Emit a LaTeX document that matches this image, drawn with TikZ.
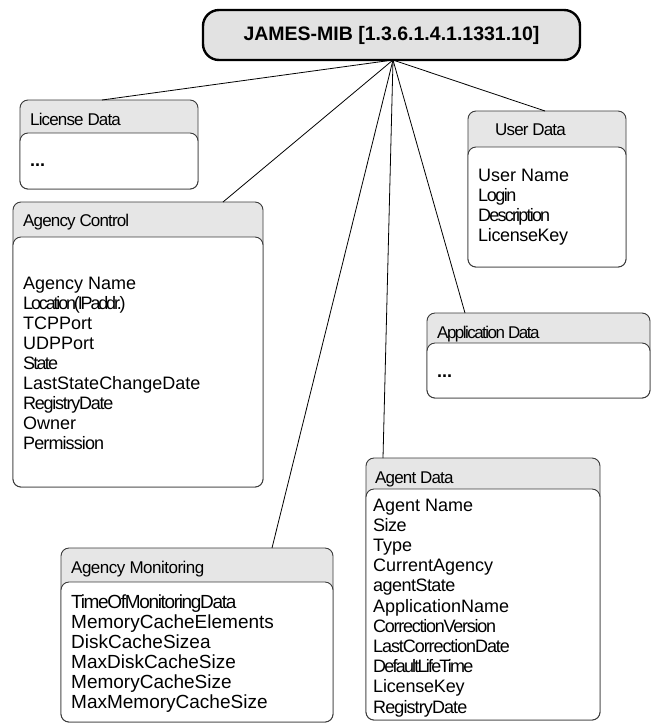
\documentclass[tikz,border=0pt]{standalone}
\usepackage{fontspec}
\setmainfont{Liberation Sans}
\definecolor{hdrgray}{HTML}{E6E6E6}
\definecolor{rootgray}{HTML}{E2E2E2}
\definecolor{boxline}{HTML}{3A3A3A}
% tightly set words (optional argument: letter spacing)
\newcommand\cnd[2][-5]{{\addfontfeatures{LetterSpace=#1}#2}}
% list of attributes: name prefix, x, first baseline, line step, style, entries
\newcommand\attrlist[6]{%
  \foreach \t [count=\i from 0] in {#6}
    \node[#5, anchor=base west] (#1\i) at (#2, #3+#4*\i) {\t};}
\begin{document}
\begin{tikzpicture}[x=1pt,y=-1pt,
  rootbox/.style={draw=black, fill=rootgray, line width=2.4pt, rounded corners=16pt,
    minimum width=377pt, minimum height=50pt, inner sep=0pt, outer sep=0pt,
    font=\fontsize{19.5}{22}\selectfont\bfseries},
  hdrbox/.style={draw=boxline, fill=hdrgray, rounded corners=8pt, line width=0.9pt,
    inner sep=0pt, outer sep=0pt, anchor=north west},
  bodybox/.style={draw=boxline, fill=white, rounded corners=8pt, line width=0.9pt},
  conn/.style={draw=black, line width=0.8pt},
  title/.style={inner sep=0pt, anchor=base west, font=\fontsize{17}{20}\selectfont},
  attr/.style={inner sep=0pt, font=\fontsize{18}{20}\selectfont},
  bigattr/.style={inner sep=0pt, font=\fontsize{19}{20}\selectfont},
]
\fill[white] (0,0) rectangle (652,724);
\path[use as bounding box] (0,0) rectangle (652,724);

% root of the tree
\node[rootbox] (root) at (391.5,35) {JAMES-MIB [1.3.6.1.4.1.1331.10]};
\coordinate (hub) at ([xshift=1.5pt]root.south);

% group boxes (outer frame carries the grey header)
\node[hdrbox, minimum width=178pt, minimum height=89pt]  (lic) at (20,100) {};
\node[hdrbox, minimum width=250pt, minimum height=285pt] (ctl) at (13,202) {};
\node[hdrbox, minimum width=158pt, minimum height=156pt] (usr) at (468,111) {};
\node[hdrbox, minimum width=223pt, minimum height=85pt]  (app) at (427,313) {};
\node[hdrbox, minimum width=234pt, minimum height=262pt] (agt) at (366,458) {};
\node[hdrbox, minimum width=272pt, minimum height=174pt] (mon) at (61,548) {};

% connectors from the root
\draw[conn] (hub) -- ([xshift=82pt]lic.north west);
\draw[conn] (hub) -- ([xshift=210pt]ctl.north west);
\draw[conn] (hub) -- ([xshift=77pt]usr.north west);
\draw[conn] (hub) -- ([xshift=38pt]app.north west);
\draw[conn] (hub) -- ([xshift=17pt]agt.north west);
\draw[conn] (hub) -- ([xshift=211pt]mon.north west);

% white bodies
\draw[bodybox] (20,133)  rectangle (lic.south east);
\draw[bodybox] (13,237)  rectangle (ctl.south east);
\draw[bodybox] (468,147) rectangle (usr.south east);
\draw[bodybox] (427,343) rectangle (app.south east);
\draw[bodybox] (366,489) rectangle (agt.south east);
\draw[bodybox] (61,582)  rectangle (mon.south east);

% License Data
\node[title] (lict) at (30,125) {\cnd{License Data}};
\node[attr, anchor=base west] (licd) at (30,166) {\textbf{...}};

% Agency Control
\node[title] (ctlt) at (23,226) {\cnd{Agency Control}};
\attrlist{ctl}{23}{289}{20}{attr}{Agency Name,{\cnd[-12]{Location(IPaddr.)}},TCPPort,UDPPort,{\cnd[-10]{State}},LastStateChangeDate,{\cnd[-7]{RegistryDate}},Owner,{\cnd{Permission}}}

% User Data
\node[title] (usrt) at (495,135) {\cnd{User Data}};
\attrlist{usr}{478}{181}{20}{attr}{User Name,{\cnd[-8]{Login}},{\cnd[-10]{Description}},{\cnd[-2]{LicenseKey}}}

% Application Data
\node[title] (appt) at (437,338) {\cnd[-9]{Application Data}};
\node[attr, anchor=base west] (appd) at (437,377) {\textbf{...}};

% Agent Data
\node[title] (agtt) at (375,483) {\cnd{Agent Data}};
\attrlist{agt}{373}{511}{20.2}{attr}{Agent Name,{\cnd[-3]{Size}},Type,{\cnd[0]{CurrentAgency}},{\cnd[-3]{agentState}},{\cnd[0]{ApplicationName}},{\cnd[-7]{CorrectionVersion}},{\cnd[-6]{LastCorrectionDate}},{\cnd[-10]{DefaultLifeTime}},{\cnd[-1]{LicenseKey}},{\cnd[-5]{RegistryDate}}}

% Agency Monitoring
\node[title] (mont) at (71,573) {\cnd[-3]{Agency Monitoring}};
\attrlist{mon}{71}{608}{20}{bigattr}{{\cnd[-7]{TimeOfMonitoringData}},MemoryCacheElements,DiskCacheSizea,MaxDiskCacheSize,MemoryCacheSize,MaxMemoryCacheSize}
\end{tikzpicture}
\end{document}
